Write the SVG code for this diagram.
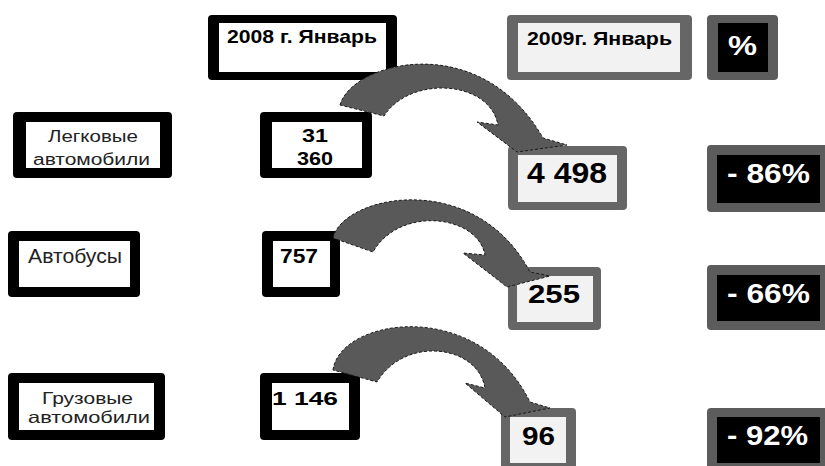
<svg xmlns="http://www.w3.org/2000/svg" width="825" height="466" viewBox="0 0 825 466">
<style>
.ob{fill:#000}
.ib{fill:#fff}
.og{fill:#666}
.ig{fill:#f2f2f2}
.op{fill:#5c5c5c}
.ip{fill:#000}
text{font-family:"Liberation Sans",Arial,sans-serif}
.lbl{fill:#222;font-weight:normal}
.val{fill:#000;font-weight:bold}
.pct{fill:#fff;font-weight:bold}
.arrow{fill:#595959;stroke:#1a1a1a;stroke-width:1;stroke-dasharray:3 2}
</style>
<rect width="825" height="466" fill="#fff"/>

<g id="h2008">
<rect class="ob" x="208" y="15" width="189" height="65" rx="4"/>
<rect class="ib" x="219" y="23" width="167" height="49"/>
<text class="val" x="302" y="43" font-size="19" text-anchor="middle" textLength="150" lengthAdjust="spacingAndGlyphs">2008 г. Январь</text>
</g>
<g id="h2009">
<rect class="og" x="507" y="15" width="185" height="65" rx="4"/>
<rect class="ig" x="518" y="23" width="162" height="49"/>
<text class="val" x="599.5" y="45" font-size="18.5" text-anchor="middle" textLength="145" lengthAdjust="spacingAndGlyphs">2009г. Январь</text>
</g>
<g id="hpct">
<rect class="op" x="707" y="15" width="71" height="65" rx="4"/>
<rect class="ip" x="718" y="23" width="50" height="49"/>
<text class="pct" x="742.5" y="55" font-size="27" text-anchor="middle" textLength="29" lengthAdjust="spacingAndGlyphs">%</text>
</g>

<g id="cars">
<rect class="ob" x="13" y="112" width="159" height="66" rx="4"/>
<rect class="ib" x="26" y="122" width="134" height="46"/>
<text class="lbl" x="93" y="142" font-size="16" text-anchor="middle" textLength="90" lengthAdjust="spacingAndGlyphs">Легковые</text>
<text class="lbl" x="91.5" y="165" font-size="16" text-anchor="middle" textLength="117" lengthAdjust="spacingAndGlyphs">автомобили</text>
</g>
<g id="cars2008">
<rect class="ob" x="260" y="112" width="112" height="66" rx="4"/>
<rect class="ib" x="272" y="122" width="90" height="46"/>
<text class="val" x="315" y="142" font-size="19" text-anchor="middle" textLength="26" lengthAdjust="spacingAndGlyphs">31</text>
<text class="val" x="315" y="165" font-size="19" text-anchor="middle" textLength="36" lengthAdjust="spacingAndGlyphs">360</text>
</g>
<g id="cars2009">
<rect class="og" x="508" y="146" width="119" height="64" rx="4"/>
<rect class="ig" x="518" y="155" width="99" height="47"/>
<text class="val" x="567" y="183" font-size="29" text-anchor="middle" textLength="80" lengthAdjust="spacingAndGlyphs">4 498</text>
</g>
<g id="carsPct">
<rect class="op" x="707" y="145" width="122" height="67" rx="4"/>
<rect class="ip" x="717" y="155" width="103" height="48"/>
<text class="pct" x="727" y="183" font-size="28" textLength="83" lengthAdjust="spacingAndGlyphs">- 86%</text>
</g>

<g id="bus">
<rect class="ob" x="8" y="231" width="132" height="66" rx="4"/>
<rect class="ib" x="19" y="241" width="111" height="46"/>
<text class="lbl" x="28" y="263" font-size="20" textLength="94" lengthAdjust="spacingAndGlyphs">Автобусы</text>
</g>
<g id="bus2008">
<rect class="ob" x="262" y="231" width="78" height="66" rx="4"/>
<rect class="ib" x="273" y="241" width="57" height="46"/>
<text class="val" x="280" y="263" font-size="21" textLength="38" lengthAdjust="spacingAndGlyphs">757</text>
</g>
<g id="bus2009">
<rect class="og" x="508" y="267" width="93" height="63" rx="4"/>
<rect class="ig" x="517" y="276" width="76" height="46"/>
<text class="val" x="528" y="303" font-size="26" textLength="52" lengthAdjust="spacingAndGlyphs">255</text>
</g>
<g id="busPct">
<rect class="op" x="707" y="265" width="122" height="65" rx="4"/>
<rect class="ip" x="717" y="275" width="103" height="46"/>
<text class="pct" x="727" y="303" font-size="28" textLength="83" lengthAdjust="spacingAndGlyphs">- 66%</text>
</g>

<g id="trucks">
<rect class="ob" x="8" y="373" width="157" height="67" rx="4"/>
<rect class="ib" x="19" y="383" width="135" height="47"/>
<text class="lbl" x="87.5" y="404" font-size="16.5" text-anchor="middle" textLength="91" lengthAdjust="spacingAndGlyphs">Грузовые</text>
<text class="lbl" x="89" y="423" font-size="16.5" text-anchor="middle" textLength="122" lengthAdjust="spacingAndGlyphs">автомобили</text>
</g>
<g id="trucks2008">
<rect class="ob" x="260" y="373" width="100" height="67" rx="4"/>
<rect class="ib" x="272" y="383" width="77" height="47"/>
<text class="val" x="272" y="405" font-size="19" textLength="66" lengthAdjust="spacingAndGlyphs">1 146</text>
</g>
<g id="trucks2009">
<rect class="og" x="501" y="408" width="75" height="66" rx="4"/>
<rect class="ig" x="510" y="417" width="56" height="46"/>
<text class="val" x="522" y="445" font-size="26" textLength="33" lengthAdjust="spacingAndGlyphs">96</text>
</g>
<g id="trucksPct">
<rect class="op" x="707" y="408" width="122" height="66" rx="4"/>
<rect class="ip" x="717" y="417" width="103" height="46"/>
<text class="pct" x="727" y="445" font-size="28" textLength="81" lengthAdjust="spacingAndGlyphs">- 92%</text>
</g>

<g id="connectors">
<path class="arrow" d="M340,105 C352,62 480,28 543,138 L567,145 L517,152 L477,122 L498,125 C490,80 410,75 384,116 Z"/>
<path class="arrow" d="M333,238 C343,195 475,168 530,272 L550,276 L507,287 L463,253 L485,255 C478,215 400,205 373,252 Z"/>
<path class="arrow" d="M333,370 C340,318 478,296 530,402 L550,408 L505,417 L465,383 L485,388 C478,345 405,335 377,382 Z"/>
</g>
</svg>
